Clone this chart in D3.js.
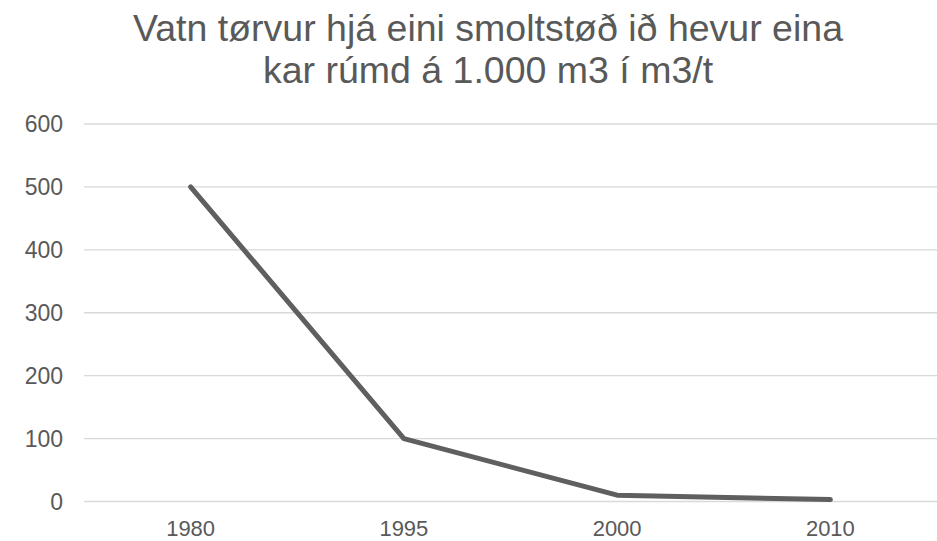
<!DOCTYPE html>
<html>
<head>
<meta charset="utf-8">
<script src="https://cdn.jsdelivr.net/npm/d3@7"></script>
<style>
  body { margin: 0; background: #fff; }
  text { font-family: "Liberation Sans", Arial, sans-serif; fill: #595959; }
</style>
</head>
<body>
<div id="chart"></div>
<script>
// chart data
const years = ["1980", "1995", "2000", "2010"];
const water = [500, 100, 10, 3];
const yTicks = [0, 100, 200, 300, 400, 500, 600];
const titleLines = ["Vatn tørvur hjá eini smoltstøð ið hevur eina", "kar rúmd á 1.000 m3 í m3/t"];

const width = 937, height = 541;
const margin = {top: 124, right: 0, bottom: 39.5, left: 84};

let svg = d3.select("#chart")
    .append("svg")
    .attr("width", width)
    .attr("height", height);

let x = d3.scaleBand()
    .domain(years)
    .range([margin.left, width - margin.right]);

let y = d3.scaleLinear()
    .domain([0, 600])
    .range([height - margin.bottom, margin.top]);

// gridlines
svg.append("g")
    .selectAll("line")
    .data(yTicks)
    .enter()
    .append("line")
    .attr("x1", margin.left)
    .attr("x2", width - margin.right)
    .attr("y1", d => y(d))
    .attr("y2", d => y(d))
    .attr("stroke", "#d9d9d9")
    .attr("stroke-width", 1.3);

// y labels
svg.append("g")
    .selectAll("text")
    .data(yTicks)
    .enter()
    .append("text")
    .attr("x", 63)
    .attr("y", d => y(d))
    .attr("dy", "0.35em")
    .style("text-anchor", "end")
    .style("font-size", "23px")
    .text(d => d);

// x labels
svg.append("g")
    .selectAll("text")
    .data(years)
    .enter()
    .append("text")
    .attr("x", d => x(d) + x.bandwidth() / 2)
    .attr("y", 536)
    .style("text-anchor", "middle")
    .style("font-size", "22px")
    .text(d => d);

// the line
let line = d3.line()
    .x((d, i) => x(years[i]) + x.bandwidth() / 2)
    .y(d => y(d));

svg.append("path")
    .datum(water)
    .attr("d", line)
    .attr("fill", "none")
    .attr("stroke", "#5f5f5f")
    .attr("stroke-width", 5)
    .attr("stroke-linecap", "round")
    .attr("stroke-linejoin", "round");

// title
svg.append("g")
    .selectAll("text")
    .data(titleLines)
    .enter()
    .append("text")
    .attr("x", 488)
    .attr("y", (d, i) => 41 + i * 42)
    .style("text-anchor", "middle")
    .style("font-size", "37.5px")
    .text(d => d);
</script>
</body>
</html>
